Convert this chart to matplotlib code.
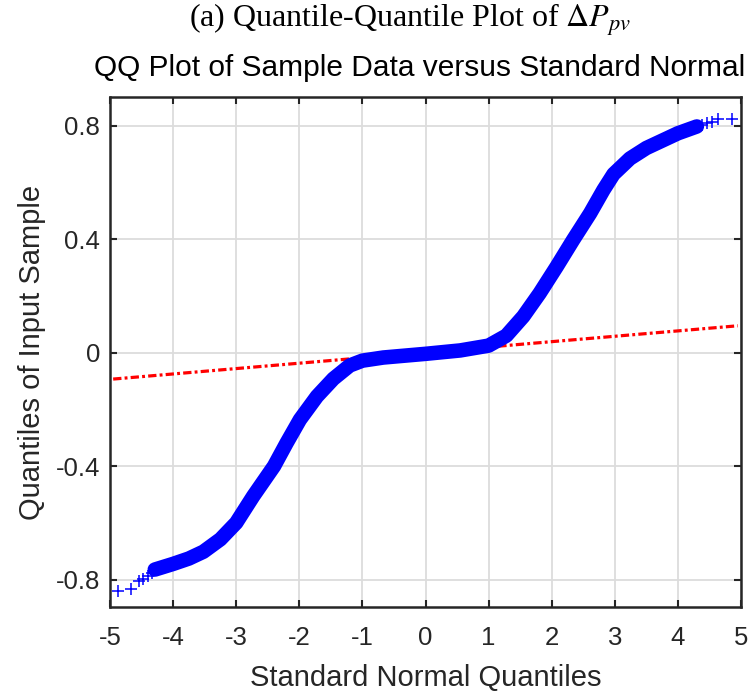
import matplotlib
matplotlib.use("Agg")
import matplotlib.pyplot as plt

# ---- data ----
# dense part of the QQ curve (standard normal quantile, sample quantile)
dense_x = [-4.29, -4.00, -3.75, -3.52, -3.25, -3.00, -2.73, -2.40, -2.20,
           -1.99, -1.72, -1.46, -1.20, -1.00, -0.67, 0.00, 0.55, 1.00, 1.28,
           1.55, 1.81, 2.08, 2.34, 2.61, 2.82, 2.98, 3.24, 3.50, 4.00, 4.30]
dense_y = [-0.765, -0.745, -0.726, -0.702, -0.658, -0.600, -0.506, -0.400, -0.318,
           -0.236, -0.154, -0.092, -0.045, -0.028, -0.017, -0.004, 0.008, 0.025, 0.060,
           0.128, 0.210, 0.304, 0.398, 0.492, 0.574, 0.630, 0.685, 0.722, 0.774, 0.798]
# sparse tail points
tail_x = [-4.88, -4.66, -4.54, -4.47, -4.39, -4.34, 4.38, 4.46, 4.54, 4.64, 4.86]
tail_y = [-0.841, -0.833, -0.806, -0.798, -0.786, -0.777, 0.803, 0.809, 0.815, 0.824, 0.826]
# reference line
ref_x = [-4.95, 4.95]
ref_y = [-0.093, 0.095]

xticks = [-5, -4, -3, -2, -1, 0, 1, 2, 3, 4, 5]
xtick_labels = ["-5", "-4", "-3", "-2", "-1", "0", "1", "2", "3", "4", "5"]
yticks = [-0.8, -0.4, 0, 0.4, 0.8]
ytick_labels = ["-0.8", "-0.4", "0", "0.4", "0.8"]

plt.rcParams['font.family'] = ['Liberation Sans', 'DejaVu Sans']
plt.rcParams['mathtext.fontset'] = 'stix'
plt.rcParams['axes.unicode_minus'] = False

fig = plt.figure(figsize=(7.51, 6.93), dpi=100)
ax = fig.add_axes([110/751, 1-607/693, 631/751, 510/693])

dark = '#262626'
ax.grid(True, color='#dcdcdc', linewidth=1.3)
ax.set_axisbelow(True)

ax.plot(ref_x, ref_y, color='red', linewidth=2.3,
        linestyle=(0, (2.6, 1.0, 0.9, 1.0)), zorder=2)
ax.plot(dense_x, dense_y, color='blue', linewidth=10.5,
        solid_capstyle='round', solid_joinstyle='round', zorder=3)
ax.plot(tail_x, tail_y, linestyle='none', marker='+', color='blue',
        markersize=9, markeredgewidth=1.1, zorder=3)

ax.set_xlim(-5, 5)
ax.set_ylim(-0.897, 0.902)
ax.set_xticks(xticks)
ax.set_xticklabels(xtick_labels)
ax.set_yticks(yticks)
ax.set_yticklabels(ytick_labels)
ax.tick_params(direction='in', length=5, width=1.5, colors=dark,
               labelsize=18.5, top=True, right=True)
ax.tick_params(axis='x', pad=14)
ax.tick_params(axis='y', pad=7)
for s in ax.spines.values():
    s.set_linewidth(1.8)
    s.set_color(dark)

ax.set_xlabel('Standard Normal Quantiles', fontsize=21, color=dark, labelpad=10)
ax.set_ylabel('Quantiles of Input Sample', fontsize=21, color=dark, labelpad=7)

fig.text(420/751, 1-68/693, 'QQ Plot of Sample Data versus Standard Normal',
         ha='center', va='center', fontsize=21.5, color='black')
fig.text(410/751, 1-20/693, r'(a) Quantile-Quantile Plot of $\Delta P_{pv}$',
         ha='center', va='center', fontsize=23, color='black',
         family=['Liberation Serif'])

fig.savefig('out.png', dpi=100)
